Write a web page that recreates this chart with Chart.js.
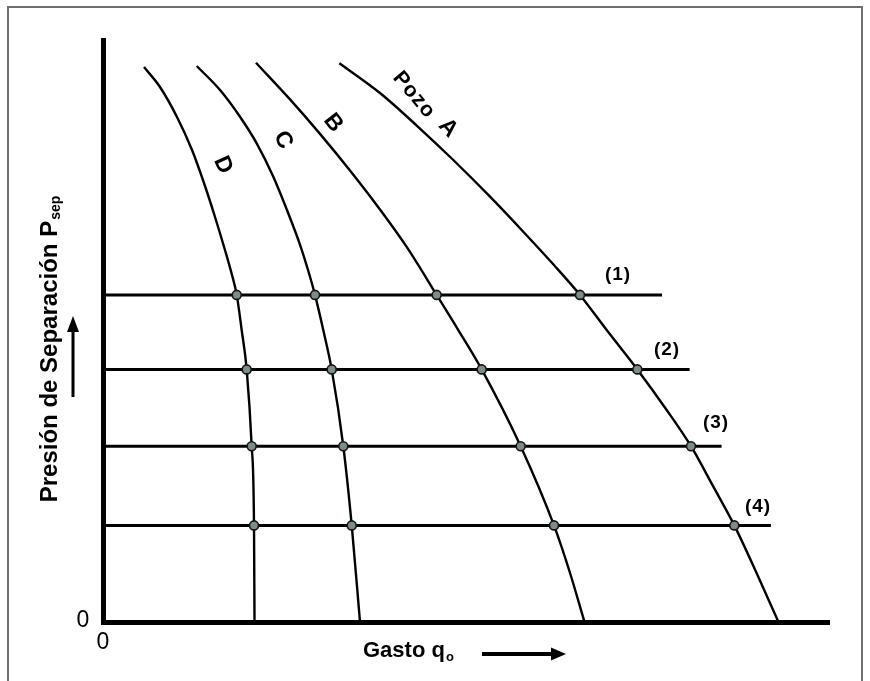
<!DOCTYPE html>
<html>
<head>
<meta charset="utf-8">
<script src="https://cdn.jsdelivr.net/npm/chart.js@4/dist/chart.umd.min.js"></script>
<style>
  html, body { margin: 0; padding: 0; background: #ffffff; }
  #chart { display: block; }
</style>
</head>
<body>
<canvas id="chart" width="870" height="681"></canvas>
<script>
// ---------------- DATA (gasto q_o vs presión de separación, relative units 0-100) ----------------
// Curves for each well: [gasto, presión]
const pozoA = [[32.55,96.0],[38.15,90.89],[43.21,85.30],[48.25,79.38],[53.31,73.08],[57.89,67.06],[62.02,61.46],[65.70,56.2],[69.38,50.17],[73.60,43.4],[77.64,36.43],[80.99,30.2],[84.07,23.25],[86.96,16.6],[90.04,8.37],[93.04,0]];
const pozoB = [[21.07,96.10],[25.76,89.79],[29.89,83.87],[34.02,77.58],[38.15,70.88],[41.83,64.45],[45.96,56.2],[48.94,50.17],[52.16,43.4],[57.53,30.2],[62.12,16.6],[64.33,8.42],[66.32,0]];
const pozoC = [[12.91,95.53],[16.12,91.41],[18.87,86.82],[21.17,82.25],[23.46,76.51],[25.34,70.79],[27.07,65.07],[28.24,60.48],[29.20,56.2],[30.34,50.17],[31.50,43.4],[33.10,30.2],[34.26,16.6],[35.40,0]];
const pozoD = [[5.65,95.36],[7.85,91.92],[10.19,86.77],[12.26,81.10],[13.91,75.43],[15.43,69.59],[16.80,63.92],[17.77,59.62],[18.42,56.2],[19.10,50.17],[19.79,43.4],[20.48,30.2],[20.80,16.6],[20.87,0]];

// Separator pressures (horizontal lines 1-4) and where each line ends
const pSep      = [56.2, 43.4, 30.2, 16.6];
const lineEnd   = [77.0, 80.8, 85.2, 92.0];
const lineNames = ['(1)', '(2)', '(3)', '(4)'];

// Gasto of each well at each separator pressure (intersection markers)
const crossA = [65.70, 73.60, 80.99, 86.96];
const crossB = [45.96, 52.16, 57.53, 62.12];
const crossC = [29.20, 31.50, 33.10, 34.26];
const crossD = [18.42, 19.79, 20.48, 20.80];

// Curve labels: [text, gasto, presión, rotation deg]
const curveLabels = [
  ['Pozo', 42.84, 90.55, 50],
  ['A',    47.52, 84.88, 48],
  ['B',    31.68, 85.74, 52],
  ['C',    24.79, 82.82, 62],
  ['D',    16.53, 78.52, 66]
];
// Line labels positions [gasto, presión]
const lineLabelPos = [[70.94, 59.62], [77.69, 46.74], [84.44, 34.19], [90.22, 19.76]];

// ---------------- CHART ----------------
const toXY = arr => arr.map(([x, y]) => ({x, y}));

const curveStyle = {
  showLine: true, borderColor: '#000', borderWidth: 2.4, pointRadius: 0,
  cubicInterpolationMode: 'monotone', fill: false
};

const markers = [];
[crossA, crossB, crossC, crossD].forEach(arr => arr.forEach((q, i) => markers.push({x: q, y: pSep[i]})));

const datasets = [
  { label: 'cruces', data: markers, showLine: false, pointRadius: 4.5,
    pointBackgroundColor: '#7f8b89', pointBorderColor: '#151515', pointBorderWidth: 1.6 },
  Object.assign({ label: 'Pozo A', data: toXY(pozoA) }, curveStyle),
  Object.assign({ label: 'B', data: toXY(pozoB) }, curveStyle),
  Object.assign({ label: 'C', data: toXY(pozoC) }, curveStyle),
  Object.assign({ label: 'D', data: toXY(pozoD) }, curveStyle)
];
pSep.forEach((p, i) => {
  datasets.push({ label: lineNames[i], data: [{x: 0, y: p}, {x: lineEnd[i], y: p}],
    showLine: true, borderColor: '#000', borderWidth: 3, pointRadius: 0, tension: 0 });
});

function drawArrow(ctx, x1, y1, x2, y2, shaft, headLen, headW) {
  const ang = Math.atan2(y2 - y1, x2 - x1);
  const bx = x2 - headLen * Math.cos(ang), by = y2 - headLen * Math.sin(ang);
  ctx.lineWidth = shaft; ctx.lineCap = 'butt';
  ctx.beginPath(); ctx.moveTo(x1, y1); ctx.lineTo(bx, by); ctx.stroke();
  const nx = -Math.sin(ang) * headW / 2, ny = Math.cos(ang) * headW / 2;
  ctx.beginPath(); ctx.moveTo(x2, y2); ctx.lineTo(bx + nx, by + ny); ctx.lineTo(bx - nx, by - ny); ctx.closePath(); ctx.fill();
}

const FONT = '"Liberation Sans", Arial, sans-serif';

const decor = {
  id: 'decor',
  beforeDraw(chart) {
    const ctx = chart.ctx;
    ctx.save();
    ctx.fillStyle = '#fff'; ctx.fillRect(0, 0, chart.width, chart.height);
    ctx.strokeStyle = '#6e6e6e'; ctx.lineWidth = 2;
    ctx.beginPath(); ctx.moveTo(8, 681); ctx.lineTo(8, 7); ctx.lineTo(862, 7); ctx.lineTo(862, 681); ctx.stroke();
    ctx.restore();
  },
  afterDraw(chart) {
    const ctx = chart.ctx;
    const sx = chart.scales.x, sy = chart.scales.y;
    const px = v => sx.getPixelForValue(v), py = v => sy.getPixelForValue(v);
    ctx.save();
    ctx.fillStyle = '#000'; ctx.strokeStyle = '#000';

    // curve labels
    curveLabels.forEach(([t, q, p, r]) => {
      ctx.save();
      ctx.translate(px(q), py(p)); ctx.rotate(r * Math.PI / 180);
      ctx.font = (t.length > 1 ? 'bold 21px ' : 'bold 23px ') + FONT;
      ctx.textAlign = 'center'; ctx.textBaseline = 'middle';
      ctx.letterSpacing = t.length > 1 ? '1px' : '0px';
      ctx.fillText(t, 0, 0);
      ctx.restore();
    });

    // line labels
    ctx.font = 'bold 19px ' + FONT; ctx.textAlign = 'center'; ctx.textBaseline = 'middle';
    ctx.letterSpacing = '1px';
    lineLabelPos.forEach(([q, p], i) => ctx.fillText(lineNames[i], px(q), py(p)));
    ctx.letterSpacing = '0px';

    // zeros
    ctx.font = '23px ' + FONT; ctx.textAlign = 'center'; ctx.textBaseline = 'middle';
    ctx.fillText('0', sx.left - 20, sy.bottom - 1);
    ctx.fillText('0', sx.left, sy.bottom + 21);

    // x axis title with subscript
    ctx.textAlign = 'left'; ctx.textBaseline = 'alphabetic';
    ctx.font = 'bold 22px ' + FONT;
    const xt = 'Gasto q';
    const x0 = 363;
    ctx.fillText(xt, x0, 657);
    const wq = ctx.measureText(xt).width;
    ctx.font = 'bold 13px ' + FONT;
    ctx.fillText('o', x0 + wq + 1, 661);
    drawArrow(ctx, 482, 654, 566, 654, 4, 15, 13);

    // y axis title with subscript (rotated)
    ctx.save();
    ctx.translate(57, 349); ctx.rotate(-Math.PI / 2);
    ctx.font = 'bold 24px ' + FONT;
    const yt = 'Presión de Separación P';
    const w1 = ctx.measureText(yt).width;
    ctx.font = 'bold 14px ' + FONT;
    const w2 = ctx.measureText('sep').width;
    const start = -(w1 + w2 + 1) / 2;
    ctx.font = 'bold 24px ' + FONT;
    ctx.fillText(yt, start, 0);
    ctx.font = 'bold 14px ' + FONT;
    ctx.fillText('sep', start + w1 + 1, 3);
    ctx.restore();
    drawArrow(ctx, 73, 397, 73, 316, 3, 16, 12);

    ctx.restore();
  }
};

new Chart(document.getElementById('chart'), {
  type: 'scatter',
  data: { datasets },
  options: {
    responsive: false,
    animation: false,
    devicePixelRatio: 1,
    layout: { padding: { left: 103, right: 41, top: 40, bottom: 59 } },
    plugins: { legend: { display: false }, tooltip: { enabled: false } },
    scales: {
      x: { type: 'linear', min: 0, max: 100,
           grid: { display: false, drawTicks: false },
           ticks: { display: false },
           border: { display: true, color: '#000', width: 5 } },
      y: { type: 'linear', min: 0, max: 100,
           grid: { display: false, drawTicks: false },
           ticks: { display: false },
           border: { display: true, color: '#000', width: 5 } }
    }
  },
  plugins: [decor]
});
</script>
</body>
</html>
